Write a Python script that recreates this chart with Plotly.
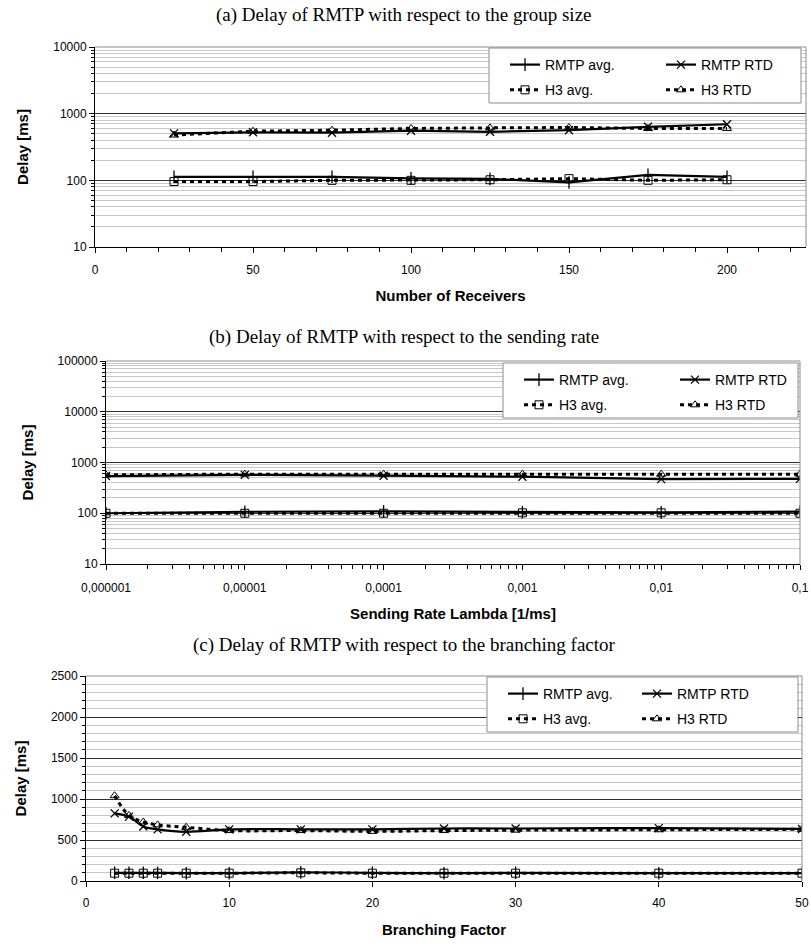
import plotly.graph_objects as go

# ---------------- data ----------------
series_names = ["RMTP avg.", "RMTP RTD", "H3 avg.", "H3 RTD"]

receivers = [25, 50, 75, 100, 125, 150, 175, 200]
a_rmtp_avg = [113, 113, 113, 107, 105, 93, 121, 113]
a_rmtp_rtd = [506, 525, 518, 555, 535, 565, 635, 694]
a_h3_avg = [96, 96, 100, 100, 102, 106, 100, 102]
a_h3_rtd = [478, 545, 565, 600, 612, 620, 600, 600]

rates = [0.000001, 0.00001, 0.0001, 0.001, 0.01, 0.1]
b_rmtp_avg = [100, 107, 109, 105, 104, 108]
b_rmtp_rtd = [540, 570, 550, 525, 470, 475]
b_h3_avg = [100, 100, 100, 102, 102, 100]
b_h3_rtd = [570, 590, 585, 590, 590, 590]

branching = [2, 3, 4, 5, 7, 10, 15, 20, 25, 30, 40, 50]
c_rmtp_avg = [100, 100, 100, 100, 95, 95, 105, 100, 95, 100, 95, 95]
c_rmtp_rtd = [825, 785, 665, 630, 600, 630, 630, 630, 640, 640, 645, 635]
c_h3_avg = [95, 95, 95, 95, 95, 95, 100, 95, 95, 95, 95, 95]
c_h3_rtd = [1040, 800, 720, 685, 655, 615, 615, 605, 615, 620, 625, 630]

log_y_vals_a = [10, 100, 1000, 10000]
log_y_text_a = ["10", "100", "1000", "10000"]
log_y_vals_b = [10, 100, 1000, 10000, 100000]
log_y_text_b = ["10", "100", "1000", "10000", "100000"]
rate_tick_vals = [0.000001, 0.00001, 0.0001, 0.001, 0.01, 0.1]
rate_tick_text = ["0,000001", "0,00001", "0,0001", "0,001", "0,01", "0,1"]

titles = [
    "(a) Delay of RMTP with respect to the group size",
    "(b) Delay of RMTP with respect to the sending rate",
    "(c) Delay of RMTP with respect to the branching factor",
]
x_titles = ["Number of Receivers", "Sending Rate Lambda [1/ms]", "Branching Factor"]
y_title = "Delay [ms]"

# ---------------- layout helpers ----------------
W, H = 811, 947
SANS = "Liberation Sans, Arial, sans-serif"
SERIF = "Liberation Serif, Times New Roman, serif"


def fx(p):
    return p / W


def fy(p):
    return 1 - p / H


# plot-area pixel boxes (left, right, top, bottom)
boxes = [
    (95, 806, 47, 247),
    (106, 800, 361, 564),
    (86, 802, 676, 881),
]
title_y = [15, 337, 645]

styles = [
    dict(line=dict(color="black", width=2.2), marker=dict(symbol="line-ns", size=9, line=dict(color="black", width=1.3))),
    dict(line=dict(color="black", width=2.2), marker=dict(symbol="x-thin", size=8, line=dict(color="black", width=1.3))),
    dict(line=dict(color="black", width=3, dash="4px,4px"), marker=dict(symbol="square-open", size=8, color="black", line=dict(width=1))),
    dict(line=dict(color="black", width=3, dash="4px,4px"), marker=dict(symbol="triangle-up-open", size=8, color="black", line=dict(width=1))),
]

panels = [
    (receivers, [a_rmtp_avg, a_rmtp_rtd, a_h3_avg, a_h3_rtd], "linear"),
    (rates, [b_rmtp_avg, b_rmtp_rtd, b_h3_avg, b_h3_rtd], "linear"),
    (branching, [c_rmtp_avg, c_rmtp_rtd, c_h3_avg, c_h3_rtd], "spline"),
]

fig = go.Figure()

for pi, (xs, ys_list, shape) in enumerate(panels):
    xa = "x" if pi == 0 else f"x{pi + 1}"
    ya = "y" if pi == 0 else f"y{pi + 1}"
    for si, ys in enumerate(ys_list):
        leg_idx = 2 * pi + (1 if si in (0, 2) else 2)
        leg = "legend" if leg_idx == 1 else f"legend{leg_idx}"
        st = styles[si]
        fig.add_trace(go.Scatter(
            x=xs, y=ys, name=series_names[si], mode="lines+markers",
            xaxis=xa, yaxis=ya, legend=leg, legendgroup=f"g{pi}{si}",
            line=dict(st["line"], shape=shape), marker=st["marker"],
            showlegend=True,
        ))

axis_common = dict(
    showline=True, linecolor="black", linewidth=1,
    tickfont=dict(family=SANS, size=12, color="black"),
    ticks="outside", tickcolor="black", ticklen=5,
    zeroline=False, automargin=False,
)
TITLE_FONT = dict(family=SANS, size=15, color="black")
grid_major = "#303030"
grid_minor = "#c8c8c8"

layout = dict(
    width=W, height=H, margin=dict(l=0, r=0, t=0, b=0, autoexpand=False),
    paper_bgcolor="white", plot_bgcolor="white",
    font=dict(family=SANS, size=12, color="black"),
)

# panel (a)
l, r, t, b = boxes[0]
layout["xaxis"] = dict(axis_common, domain=[fx(l), fx(r)], anchor="y", range=[0, 225],
                       tick0=0, dtick=50, showgrid=False, ticklabelstandoff=7,
                       minor=dict(ticks="outside", dtick=10, ticklen=4, tickcolor="black", showgrid=False),
                       title=dict(text=f"<b>{x_titles[0]}</b>", font=TITLE_FONT, standoff=14))
layout["yaxis"] = dict(axis_common, domain=[fy(b), fy(t)], anchor="x", type="log", range=[1, 4],
                       tickvals=log_y_vals_a, ticktext=log_y_text_a,
                       showgrid=True, gridcolor=grid_major, gridwidth=1,
                       minor=dict(ticks="outside", dtick="D1", ticklen=3, tickcolor="black",
                                  showgrid=True, gridcolor=grid_minor, gridwidth=1),
                       title=dict(text=f"<b>{y_title}</b>", font=TITLE_FONT, standoff=20))

# panel (b)
l, r, t, b = boxes[1]
layout["xaxis2"] = dict(axis_common, domain=[fx(l), fx(r)], anchor="y2", type="log", range=[-6, -1],
                        tickvals=rate_tick_vals, ticktext=rate_tick_text, showgrid=False, ticklabelstandoff=8,
                        minor=dict(ticks="outside", dtick="D1", ticklen=4, tickcolor="black", showgrid=False),
                        title=dict(text=f"<b>{x_titles[1]}</b>", font=TITLE_FONT, standoff=14))
layout["yaxis2"] = dict(axis_common, domain=[fy(b), fy(t)], anchor="x2", type="log", range=[1, 5],
                        tickvals=log_y_vals_b, ticktext=log_y_text_b,
                        showgrid=True, gridcolor=grid_major, gridwidth=1,
                        minor=dict(ticks="outside", dtick="D1", ticklen=3, tickcolor="black",
                                   showgrid=True, gridcolor=grid_minor, gridwidth=1),
                        title=dict(text=f"<b>{y_title}</b>", font=TITLE_FONT, standoff=20))

# panel (c)
l, r, t, b = boxes[2]
layout["xaxis3"] = dict(axis_common, domain=[fx(l), fx(r)], anchor="y3", range=[0, 50],
                        tick0=0, dtick=10, showgrid=False, ticklabelstandoff=6,
                        title=dict(text=f"<b>{x_titles[2]}</b>", font=TITLE_FONT, standoff=15))
layout["yaxis3"] = dict(axis_common, domain=[fy(b), fy(t)], anchor="x3", range=[0, 2500],
                        tick0=0, dtick=500, showgrid=True, gridcolor=grid_major, gridwidth=1,
                        minor=dict(ticks="outside", dtick=100, ticklen=3, tickcolor="black",
                                   showgrid=True, gridcolor=grid_minor, gridwidth=1),
                        title=dict(text=f"<b>{y_title}</b>", font=TITLE_FONT, standoff=20))

# legends: two columns per panel  (left, right, top, bottom, column spacing)
legend_boxes = [
    (489, 801, 48, 103, 156),
    (503, 798, 363, 418, 156),
    (487, 798, 677, 732, 134),
]
shapes = []
for pi in range(3):
    bl, br, bt, bb, cs = legend_boxes[pi]
    for col in range(2):
        idx = 2 * pi + col + 1
        key = "legend" if idx == 1 else f"legend{idx}"
        layout[key] = dict(
            x=fx(bl + 16 + col * cs), y=fy(bt + 1), xanchor="left", yanchor="top",
            orientation="v", bgcolor="rgba(0,0,0,0)", borderwidth=0,
            font=dict(family=SANS, size=14, color="black"),
            itemwidth=30, tracegroupgap=4, traceorder="grouped",
        )
    shapes.append(dict(type="rect", xref="paper", yref="paper",
                       x0=fx(bl), x1=fx(br), y0=fy(bb), y1=fy(bt),
                       fillcolor="white", line=dict(color="#8c8c8c", width=1), layer="above"))
    # plot-area frame (top & right edges, grey)
    l, r, t, b = boxes[pi]
    shapes.append(dict(type="line", xref="paper", yref="paper", x0=fx(l), x1=fx(r), y0=fy(t), y1=fy(t),
                       line=dict(color="#8c8c8c", width=1), layer="above"))
    shapes.append(dict(type="line", xref="paper", yref="paper", x0=fx(r), x1=fx(r), y0=fy(b), y1=fy(t),
                       line=dict(color="#8c8c8c", width=1), layer="above"))
layout["shapes"] = shapes

layout["annotations"] = [
    dict(text=titles[i], xref="paper", yref="paper", x=fx(404), y=fy(title_y[i]),
         xanchor="center", yanchor="middle", showarrow=False,
         font=dict(family=SERIF, size=19, color="black"))
    for i in range(3)
]

fig.update_layout(**layout)
fig.write_html("out.html", config={"displayModeBar": False},
               post_script="document.body.style.margin='0';document.body.style.overflow='hidden';")
